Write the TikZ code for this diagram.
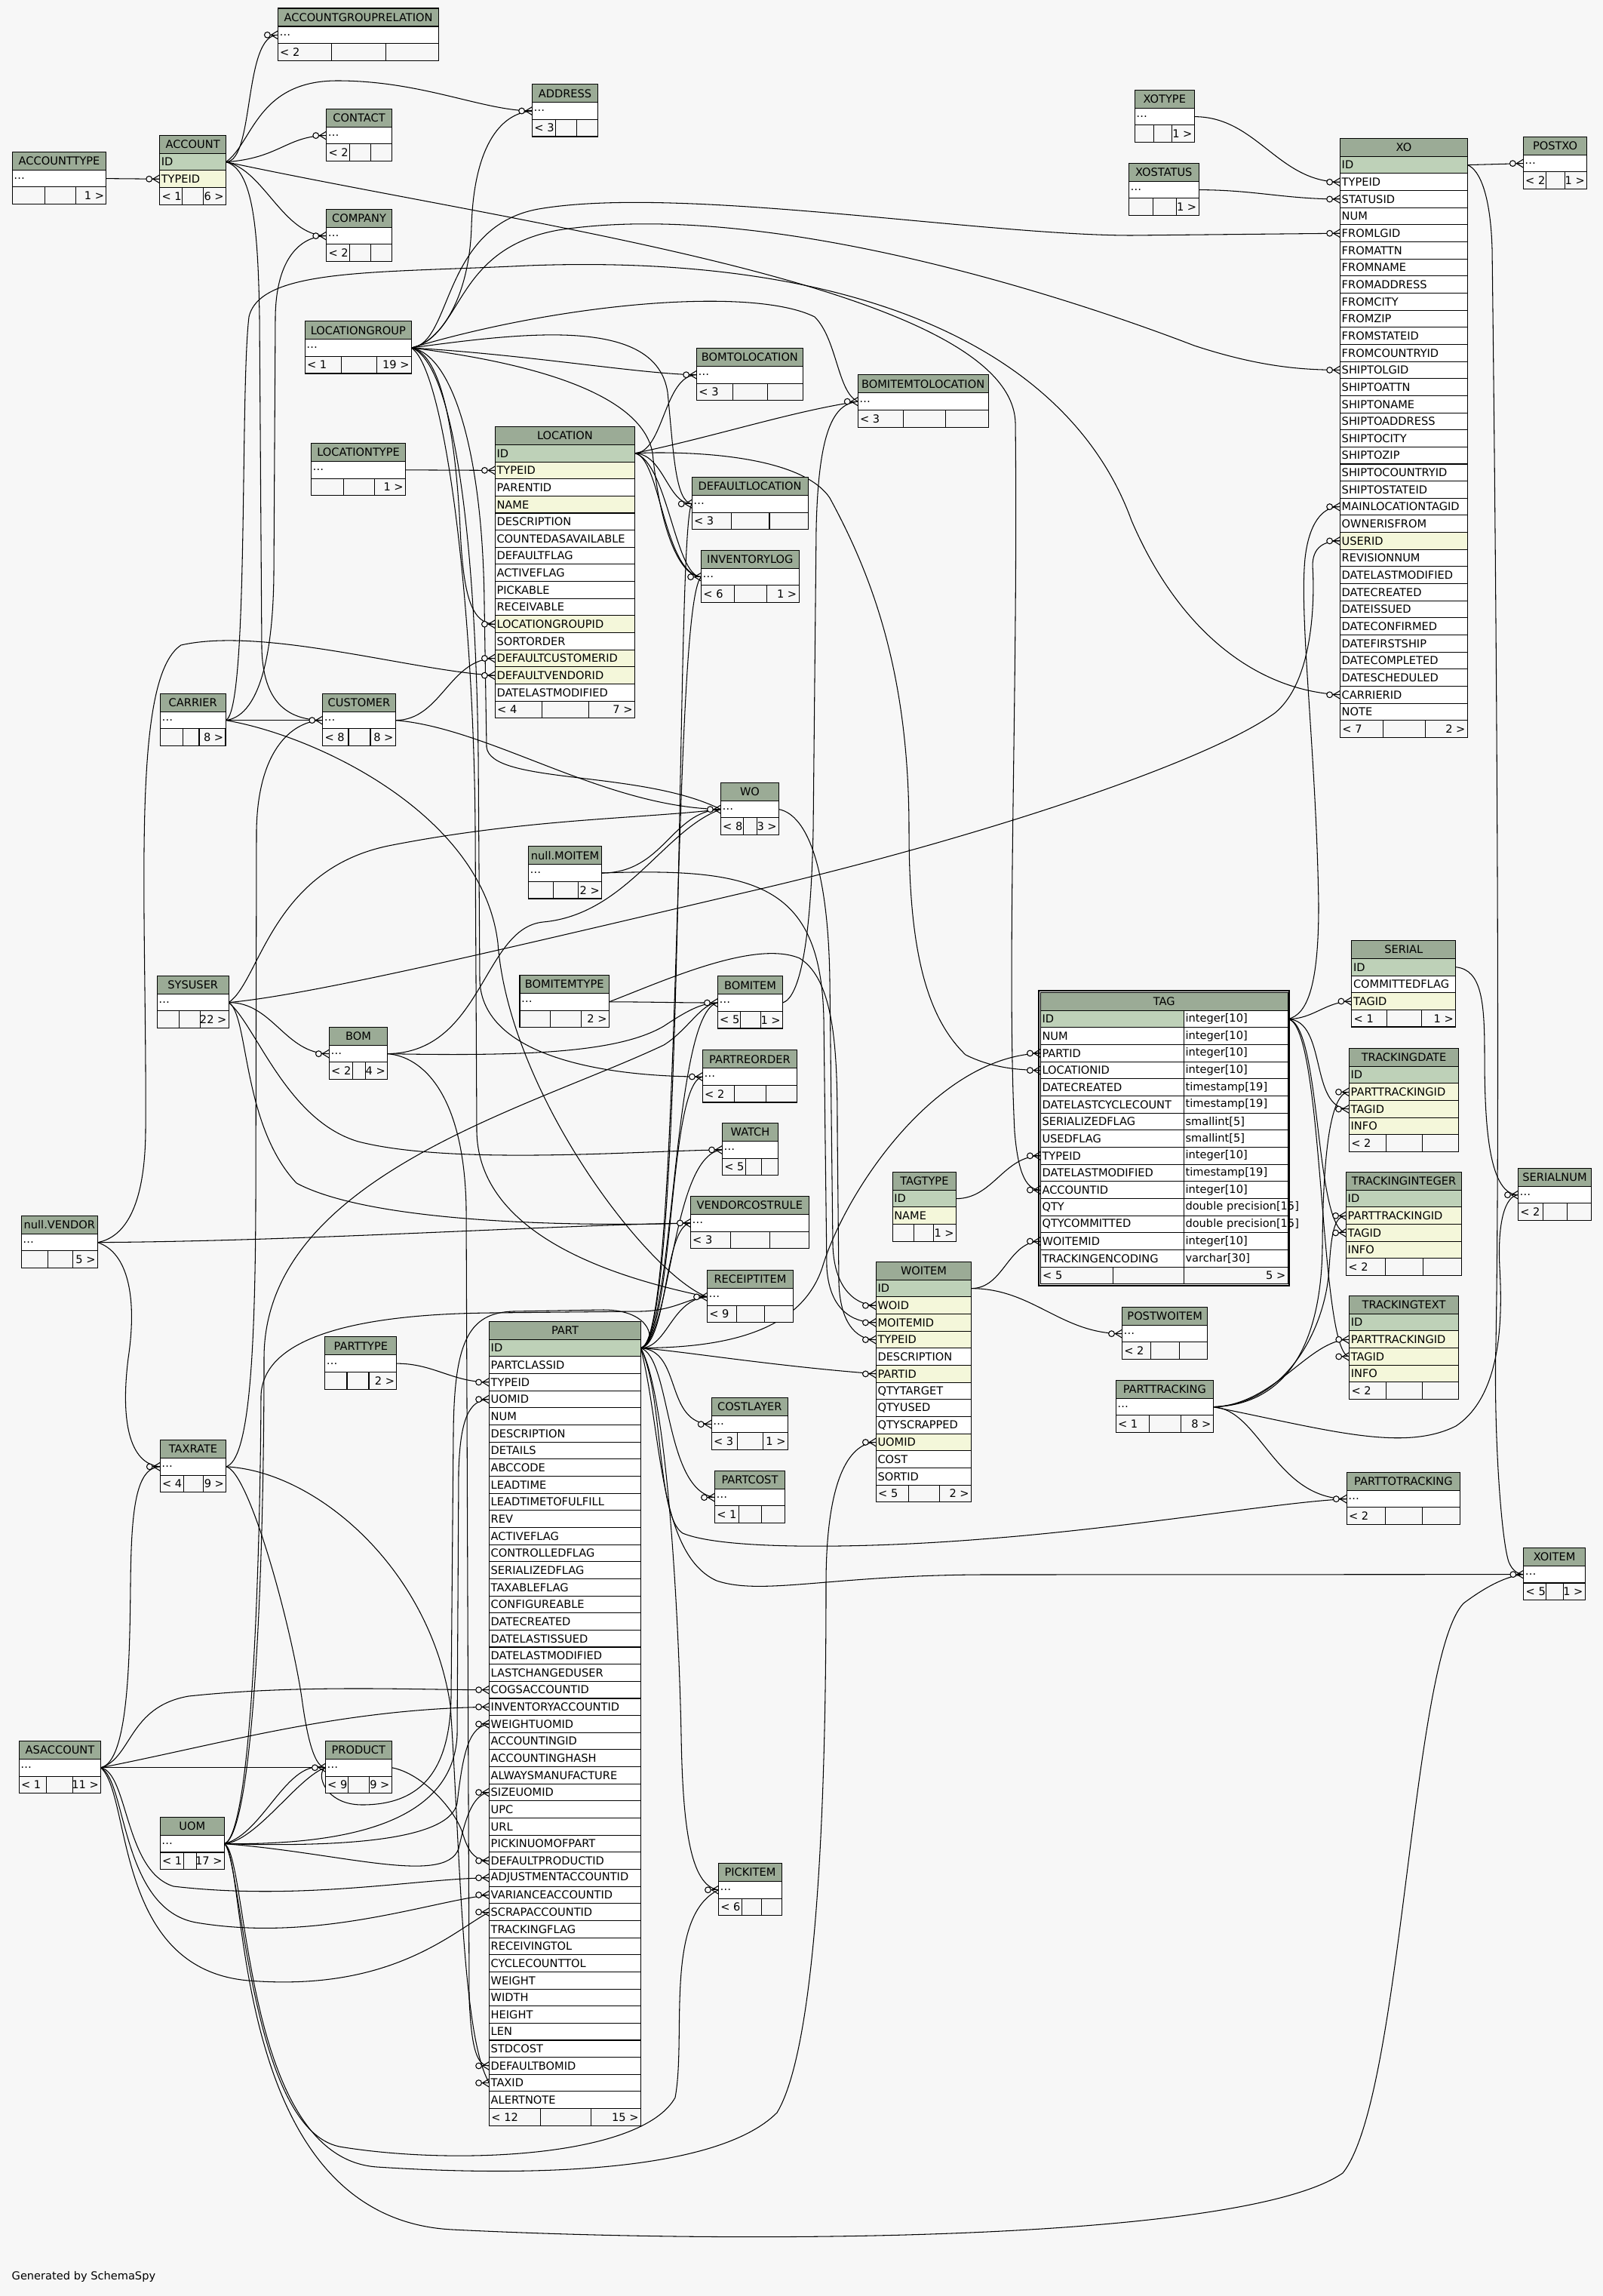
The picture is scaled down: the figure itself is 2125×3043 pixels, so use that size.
\documentclass[tikz,border=0pt]{standalone}
\usepackage{fontspec}
\setmainfont{DejaVu Sans}
\usepackage{tikz}
\definecolor{erhd}{HTML}{9BAB96}
\definecolor{erpk}{HTML}{BED1B8}
\definecolor{erix}{HTML}{F4F7DA}
\definecolor{erw}{HTML}{FFFFFF}
\definecolor{erbg}{HTML}{F7F7F7}
\pgfdeclarelayer{bg}
\pgfdeclarelayer{wires}
\pgfsetlayers{bg,wires,main}

\newcommand{\ertable}[6]{%
  \pgfmathsetmacro\ertw{(#4-#2)*0.284528-1.2}%
  \node[erhead, text width=\ertw pt] (#1) at (#2,#3) {#5};
  \foreach \t/\k [count=\i] in {#6} {
    \node[errow, fill=er\k, text width=\ertw pt] (#1-\i) at (#2,{#3+24+(\i-1)*22.65}) {\t};
    \pgfmathsetmacro\ery{#3+24+\i*22.65}\xdef\erY{\ery}
  }
  \xdef\erN{#1}\xdef\erL{#2}\xdef\erR{#4}%
}
\newcommand{\erfoot}[4]{%
  \pgfmathsetmacro\erfa{(#1-\erL)*0.284528}%
  \pgfmathsetmacro\erfb{(#2-#1)*0.284528}%
  \pgfmathsetmacro\erfc{(\erR-#2)*0.284528}%
  \node[erfoot, minimum width=\erfa pt] (\erN-fa) at (\erL,\erY) {};
  \node[erfoot, minimum width=\erfb pt] (\erN-fb) at (#1,\erY) {};
  \node[erfoot, minimum width=\erfc pt] (\erN-fc) at (#2,\erY) {};
  \node[anchor=west, inner xsep=0.6pt, inner ysep=0pt] (\erN-la) at (\erN-fa.west) {#3};
  \node[anchor=east, inner xsep=0.6pt, inner ysep=0pt] (\erN-ra) at (\erN-fc.east) {#4};
}
\newcommand{\crow}[1]{%
  \draw[fk] (#1) -- ++(-10,0);
  \draw[fk] (#1) ++(0,-5.5) -- ++(-9,5.5) -- ++(9,5.5);
  \draw[fk, fill=erbg] (#1) ++(-14,0) circle[radius=1.1pt];
}

\begin{document}
\begin{tikzpicture}[x=0.01cm, y=-0.01cm,
    font=\fontsize{4.15}{5}\selectfont,
    erhead/.style={draw, fill=erhd, line width=0.3pt, anchor=north west, minimum height=0.24cm,
      inner xsep=0.6pt, inner ysep=0pt, outer sep=0pt, align=center},
    errow/.style={draw, line width=0.3pt, anchor=north west, minimum height=0.2265cm,
      inner xsep=0.6pt, inner ysep=0pt, outer sep=0pt, align=left},
    erfoot/.style={draw, fill=erbg, line width=0.3pt, anchor=north west, minimum height=0.2265cm,
      inner xsep=0.6pt, inner ysep=0pt, outer sep=0pt},
    fk/.style={line width=0.3pt}
  ]
  \useasboundingbox (0,0) rectangle (2125,3043);
  \begin{pgfonlayer}{bg}
    \fill[erbg] (0,0) rectangle (2125,3043);
  \end{pgfonlayer}

  \ertable{acctgrp}{368.4}{11}{581.6}{ACCOUNTGROUPRELATION}{\ldots/w}
  \erfoot{439.8}{511.2}{< 2}{}
  \ertable{acctype}{16.3}{201.3}{140.8}{ACCOUNTTYPE}{\ldots/w}
  \erfoot{59.7}{100.5}{}{1 >}
  \ertable{account}{211.7}{179.3}{299.5}{ACCOUNT}{ID/pk, TYPEID/ix}
  \erfoot{241.3}{269.4}{< 1}{6 >}
  \ertable{contact}{432.7}{144.3}{519.4}{CONTACT}{\ldots/w}
  \erfoot{463.3}{491.3}{< 2}{}
  \ertable{company}{432.7}{277.3}{519.4}{COMPANY}{\ldots/w}
  \erfoot{463.3}{491.3}{< 2}{}
  \ertable{address}{705.6}{111.7}{792.3}{ADDRESS}{\ldots/w}
  \erfoot{736.2}{764.3}{< 3}{}
  \ertable{xotype}{1504.3}{119.3}{1583.2}{XOTYPE}{\ldots/w}
  \erfoot{1529.4}{1553.2}{}{1 >}
  \ertable{xostatus}{1496.5}{216.3}{1589}{XOSTATUS}{\ldots/w}
  \erfoot{1528.5}{1559.4}{}{1 >}
  \ertable{xo}{1776.6}{183.3}{1945.2}{XO}{ID/pk, TYPEID/w, STATUSID/w, NUM/w, FROMLGID/w, FROMATTN/w,
    FROMNAME/w, FROMADDRESS/w, FROMCITY/w, FROMZIP/w, FROMSTATEID/w, FROMCOUNTRYID/w, SHIPTOLGID/w,
    SHIPTOATTN/w, SHIPTONAME/w, SHIPTOADDRESS/w, SHIPTOCITY/w, SHIPTOZIP/w, SHIPTOCOUNTRYID/w,
    SHIPTOSTATEID/w, MAINLOCATIONTAGID/w, OWNERISFROM/w, USERID/ix, REVISIONNUM/w, DATELASTMODIFIED/w,
    DATECREATED/w, DATEISSUED/w, DATECONFIRMED/w, DATEFIRSTSHIP/w, DATECOMPLETED/w, DATESCHEDULED/w,
    CARRIERID/w, NOTE/w}
  \erfoot{1833.4}{1889.3}{< 7}{2 >}
  \ertable{postxo}{2019.3}{181.3}{2103.6}{POSTXO}{\ldots/w}
  \erfoot{2049.3}{2074}{< 2}{1 >}
  \ertable{locgroup}{404.3}{425.7}{545.3}{LOCATIONGROUP}{\ldots/w}
  \erfoot{452.1}{499.4}{< 1}{19 >}
  \ertable{loctype}{412.6}{587.5}{537.5}{LOCATIONTYPE}{\ldots/w}
  \erfoot{455.3}{496.6}{}{1 >}
  \ertable{location}{656.4}{565.4}{841.4}{LOCATION}{ID/pk, TYPEID/ix, PARENTID/w, NAME/ix, DESCRIPTION/w,
    COUNTEDASAVAILABLE/w, DEFAULTFLAG/w, ACTIVEFLAG/w, PICKABLE/w, RECEIVABLE/w, LOCATIONGROUPID/ix,
    SORTORDER/w, DEFAULTCUSTOMERID/ix, DEFAULTVENDORID/ix, DATELASTMODIFIED/w}
  \erfoot{718.8}{780.4}{< 4}{7 >}
  \ertable{bomtoloc}{923.6}{461.4}{1064.1}{BOMTOLOCATION}{\ldots/w}
  \erfoot{971.4}{1017.3}{< 3}{}
  \ertable{bomitemtoloc}{1137.2}{496.8}{1310}{BOMITEMTOLOCATION}{\ldots/w}
  \erfoot{1197.4}{1253.6}{< 3}{}
  \ertable{defloc}{917.2}{632.5}{1071}{DEFAULTLOCATION}{\ldots/w}
  \erfoot{969.1}{1020}{< 3}{}
  \ertable{invlog}{929.6}{729.3}{1059}{INVENTORYLOG}{\ldots/w}
  \erfoot{973.2}{1016.4}{< 6}{1 >}
  \ertable{carrier}{212.5}{919.3}{299}{CARRIER}{\ldots/w}
  \erfoot{242.6}{264}{}{8 >}
  \ertable{customer}{427.7}{919.3}{524.2}{CUSTOMER}{\ldots/w}
  \erfoot{462}{491}{< 8}{8 >}
  \ertable{wo}{955.4}{1037.3}{1032.5}{WO}{\ldots/w}
  \erfoot{985.7}{1003.6}{< 8}{3 >}
  \ertable{moitem}{700.6}{1121.7}{797.6}{null.MOITEM}{\ldots/w}
  \erfoot{733.6}{766.5}{}{2 >}
  \ertable{sysuser}{208.2}{1293.3}{303.2}{SYSUSER}{\ldots/w}
  \erfoot{237.5}{265.4}{}{22 >}
  \ertable{bomitemtype}{689}{1292.5}{807.3}{BOMITEMTYPE}{\ldots/w}
  \erfoot{729.7}{770.4}{}{2 >}
  \ertable{bomitem}{951.4}{1293.7}{1037.5}{BOMITEM}{\ldots/w}
  \erfoot{981.8}{1008.2}{< 5}{1 >}
  \ertable{bom}{436.4}{1361.3}{513.6}{BOM}{\ldots/w}
  \erfoot{467.1}{484.3}{< 2}{4 >}
  \ertable{partreorder}{931.4}{1391.7}{1056.4}{PARTREORDER}{\ldots/w}
  \erfoot{973.2}{1015.7}{< 2}{}
  \ertable{watch}{957.5}{1488.6}{1031.4}{WATCH}{\ldots/w}
  \erfoot{988.2}{1009.6}{< 5}{}
  \ertable{vendor}{28.2}{1611.3}{129.3}{null.VENDOR}{\ldots/w}
  \erfoot{63.2}{96.4}{}{5 >}
  \ertable{vcrule}{915.4}{1585.6}{1072.1}{VENDORCOSTRULE}{\ldots/w}
  \erfoot{968.2}{1020.4}{< 3}{}
  \ertable{receiptitem}{937.5}{1683.5}{1051.4}{RECEIPTITEM}{\ldots/w}
  \erfoot{976.4}{1013.2}{< 9}{}

  \node[erhead, text width=92pt] (tag) at (1379.4,1315.3) {TAG};
  \foreach \t/\k/\d [count=\i] in {ID/pk/integer[10], NUM/w/integer[10], PARTID/w/integer[10],
    LOCATIONID/w/integer[10], DATECREATED/w/timestamp[19], DATELASTCYCLECOUNT/w/timestamp[19],
    SERIALIZEDFLAG/w/smallint[5], USEDFLAG/w/smallint[5], TYPEID/w/integer[10],
    DATELASTMODIFIED/w/timestamp[19], ACCOUNTID/w/integer[10], QTY/w/double precision[15],
    QTYCOMMITTED/w/double precision[15], WOITEMID/w/integer[10], TRACKINGENCODING/w/varchar[30]} {
    \node[errow, fill=er\k, text width=52.86pt] (tag-\i) at (1379.4,{1339.3+(\i-1)*22.65}) {\t};
    \node[errow, fill=erw, text width=37.95pt] (tag-\i-t) at (1569.4,{1339.3+(\i-1)*22.65}) {\mbox{\d}};
  }
  \gdef\erN{tag}\gdef\erL{1379.4}\gdef\erR{1707}\gdef\erY{1679.05}
  \erfoot{1475.4}{1569.4}{< 5}{5 >}
  \draw[line width=0.5pt] (1377,1312.7) rectangle (1709,1704.3);

  \ertable{serial}{1791.9}{1246.4}{1929.6}{SERIAL}{ID/pk, COMMITTEDFLAG/w, TAGID/ix}
  \erfoot{1838.9}{1884.5}{< 1}{1 >}
  \ertable{trackdate}{1788.5}{1389.3}{1933.4}{TRACKINGDATE}{ID/pk, PARTTRACKINGID/ix, TAGID/ix, INFO/ix}
  \erfoot{1837.5}{1885.5}{< 2}{}
  \ertable{trackint}{1784.6}{1553.3}{1937.3}{TRACKINGINTEGER}{ID/pk, PARTTRACKINGID/ix, TAGID/ix, INFO/ix}
  \erfoot{1836.5}{1886.9}{< 2}{}
  \ertable{tracktext}{1788.7}{1717.3}{1933.3}{TRACKINGTEXT}{ID/pk, PARTTRACKINGID/ix, TAGID/ix, INFO/ix}
  \erfoot{1837}{1885.4}{< 2}{}
  \ertable{serialnum}{2012.5}{1548.3}{2109.4}{SERIALNUM}{\ldots/w}
  \erfoot{2045.4}{2077}{< 2}{}
  \ertable{tagtype}{1183.2}{1553.3}{1267.5}{TAGTYPE}{ID/pk, NAME/ix}
  \erfoot{1211.4}{1237.5}{}{1 >}
  \ertable{woitem}{1161.4}{1672.3}{1287.5}{WOITEM}{ID/pk, WOID/ix, MOITEMID/ix, TYPEID/ix, DESCRIPTION/w,
    PARTID/ix, QTYTARGET/w, QTYUSED/w, QTYSCRAPPED/w, UOMID/ix, COST/w, SORTID/w}
  \erfoot{1204.3}{1245.7}{< 5}{2 >}
  \ertable{postwoitem}{1487.5}{1732.3}{1600.7}{POSTWOITEM}{\ldots/w}
  \erfoot{1525.7}{1563.6}{< 2}{}
  \ertable{parttracking}{1479.3}{1829.3}{1608.2}{PARTTRACKING}{\ldots/w}
  \erfoot{1523.2}{1565.7}{< 1}{8 >}
  \ertable{parttotrack}{1785.3}{1951.3}{1935.4}{PARTTOTRACKING}{\ldots/w}
  \erfoot{1836.2}{1885.4}{< 2}{}
  \ertable{xoitem}{2019.8}{2051.3}{2101.2}{XOITEM}{\ldots/w}
  \erfoot{2049.5}{2072.4}{< 5}{1 >}
  \ertable{parttype}{430.8}{1771.8}{525.9}{PARTTYPE}{\ldots/w}
  \erfoot{460}{489}{}{2 >}
  \ertable{part}{648.6}{1751.3}{849.3}{PART}{ID/pk, PARTCLASSID/w, TYPEID/w, UOMID/w, NUM/w, DESCRIPTION/w,
    DETAILS/w, ABCCODE/w, LEADTIME/w, LEADTIMETOFULFILL/w, REV/w, ACTIVEFLAG/w, CONTROLLEDFLAG/w,
    SERIALIZEDFLAG/w, TAXABLEFLAG/w, CONFIGUREABLE/w, DATECREATED/w, DATELASTISSUED/w,
    DATELASTMODIFIED/w, LASTCHANGEDUSER/w, COGSACCOUNTID/w, INVENTORYACCOUNTID/w, WEIGHTUOMID/w,
    ACCOUNTINGID/w, ACCOUNTINGHASH/w, ALWAYSMANUFACTURE/w, SIZEUOMID/w, UPC/w, URL/w, PICKINUOMOFPART/w,
    DEFAULTPRODUCTID/w, ADJUSTMENTACCOUNTID/w, VARIANCEACCOUNTID/w, SCRAPACCOUNTID/w, TRACKINGFLAG/w,
    RECEIVINGTOL/w, CYCLECOUNTTOL/w, WEIGHT/w, WIDTH/w, HEIGHT/w, LEN/w, STDCOST/w, DEFAULTBOMID/w,
    TAXID/w, ALERTNOTE/w}
  \erfoot{716.4}{783.2}{< 12}{15 >}
  \ertable{costlayer}{943.2}{1852.3}{1044.3}{COSTLAYER}{\ldots/w}
  \erfoot{977.5}{1011.8}{< 3}{1 >}
  \ertable{partcost}{947.5}{1949.3}{1040.4}{PARTCOST}{\ldots/w}
  \erfoot{979.6}{1009.6}{< 1}{}
  \ertable{taxrate}{212.3}{1908.5}{299.7}{TAXRATE}{\ldots/w}
  \erfoot{243.6}{269.7}{< 4}{9 >}
  \ertable{asaccount}{25.3}{2307.4}{133.6}{ASACCOUNT}{\ldots/w}
  \erfoot{61.3}{96.5}{< 1}{11 >}
  \ertable{product}{431.4}{2307.4}{519.2}{PRODUCT}{\ldots/w}
  \erfoot{461.5}{489.5}{< 9}{9 >}
  \ertable{uom}{212.3}{2408.3}{297.4}{UOM}{\ldots/w}
  \erfoot{243.6}{260.6}{< 1}{17 >}
  \ertable{pickitem}{952.5}{2469.4}{1036.4}{PICKITEM}{\ldots/w}
  \erfoot{983.2}{1009.6}{< 6}{}

  \node[anchor=base west, inner sep=0pt] (credit) at (15,3021) {Generated by SchemaSpy};

  \begin{pgfonlayer}{wires}
  \draw[fk] (acctype-1.east) -- (account-2.west);
  \draw[fk] (account-1.east) .. controls (338,214) and (322,46) .. (acctgrp-1.west);
  \draw[fk] (account-1.east) .. controls (370,210) and (380,180) .. (contact-1.west);
  \draw[fk] (account-1.east) .. controls (335,190) and (340,107) .. (447,107) .. controls (560,107) and (640,147) .. (address-1.west);
  \draw[fk] (account-1.east) .. controls (350,225) and (375,312) .. (company-1.west);
  \draw[fk] (account-1.east) .. controls (335,225) and (342,300) .. (344,420) -- (347,860) .. controls (349,930) and (380,954) .. (customer-1.west);
  \draw[fk] (account-1.east) .. controls (700,300) and (1340,380) .. (1346,560) .. controls (1350,900) and (1334,1280) .. (1345,1500) .. controls (1350,1560) and (1362,1577) .. (tag-11.west);
  \draw[fk] (carrier-1.east) -- (customer-1.west);
  \draw[fk] (carrier-1.east) .. controls (340,950) and (362,880) .. (363,760) -- (365,420) .. controls (366,340) and (400,313) .. (company-1.west);
  \draw[fk] (carrier-1.east) .. controls (330,945) and (318,520) .. (330,420) .. controls (345,355) and (500,362) .. (700,352) .. controls (1150,335) and (1420,470) .. (1500,690) .. controls (1560,830) and (1660,915) .. (xo-32.west);
  \draw[fk] (carrier-1.east) .. controls (420,975) and (640,1080) .. (660,1250) .. controls (675,1450) and (860,1690) .. (receiptitem-1.west);

  \draw[fk] (xotype-1.east) to[out=0,in=180] (xo-2.west);
  \draw[fk] (xostatus-1.east) to[out=0,in=180] (xo-3.west);
  \draw[fk] (locgroup-1.east) .. controls (600,455) and (585,300) .. (714,277) .. controls (900,245) and (1300,312) .. (1500,312) -- (xo-5.west);
  \draw[fk] (locgroup-1.east) .. controls (615,445) and (600,330) .. (740,305) .. controls (1000,265) and (1380,380) .. (1583,458) .. controls (1680,490) and (1740,490) .. (xo-13.west);
  \draw[fk] (tag-1-t.east) .. controls (1735,1345) and (1748,1300) .. (1748,1200) .. controls (1745,1000) and (1722,820) .. (1730,740) .. controls (1735,695) and (1752,671) .. (xo-21.west);
  \draw[fk] (sysuser-1.east) .. controls (420,1318) and (700,1250) .. (1000,1180) .. controls (1300,1110) and (1600,1010) .. (1690,945) .. controls (1745,900) and (1742,780) .. (1740,750) .. controls (1740,725) and (1755,717) .. (xo-23.west);
  \draw[fk] (xo-1.east) -- (postxo-1.west);
  \draw[fk] (xo-1.east) .. controls (1962,225) and (1976,260) .. (1978,330) .. controls (1985,900) and (1988,1500) .. (1983,1780) .. controls (1980,1900) and (1990,2040) .. (2000,2070) .. controls (2005,2082) and (2012,2086) .. (xoitem-1.west);

  \draw[fk] (tag-1-t.east) to[out=0,in=180] (serial-3.west);
  \draw[fk] (tag-1-t.east) .. controls (1760,1352) and (1735,1470) .. (trackdate-3.west);
  \draw[fk] (tag-1-t.east) .. controls (1752,1355) and (1742,1630) .. (trackint-3.west);
  \draw[fk] (tag-1-t.east) .. controls (1756,1355) and (1748,1795) .. (tracktext-3.west);
  \draw[fk] (tagtype-1.east) to[out=0,in=180] (tag-9.west);
  \draw[fk] (woitem-1.east) to[out=0,in=180] (tag-14.west);
  \draw[fk] (woitem-1.east) to[out=0,in=180] (postwoitem-1.west);
  \draw[fk] (serial-1.east) .. controls (1965,1285) and (1968,1330) .. (1968,1400) .. controls (1968,1500) and (1975,1583) .. (serialnum-1.west);
  \draw[fk] (parttracking-1.east) .. controls (1700,1862) and (1752,1790) .. (1753,1650) .. controls (1754,1520) and (1765,1447) .. (trackdate-2.west);
  \draw[fk] (parttracking-1.east) .. controls (1705,1862) and (1758,1760) .. (1762,1680) .. controls (1765,1630) and (1770,1611) .. (trackint-2.west);
  \draw[fk] (parttracking-1.east) .. controls (1690,1862) and (1735,1775) .. (tracktext-2.west);
  \draw[fk] (parttracking-1.east) .. controls (1670,1868) and (1690,1986) .. (parttotrack-1.west);
  \draw[fk] (parttracking-1.east) .. controls (1760,1895) and (1860,1925) .. (1930,1890) .. controls (1990,1850) and (1992,1750) .. (1988,1680) .. controls (1985,1620) and (1995,1585) .. (serialnum-1.west);

  \draw[fk] (loctype-1.east) -- (location-2.west);
  \draw[fk] (locgroup-1.east) .. controls (590,470) and (605,600) .. (610,700) .. controls (614,790) and (625,827) .. (location-11.west);
  \draw[fk] (customer-1.east) to[out=0,in=180] (location-13.west);
  \draw[fk] (vendor-1.east) .. controls (165,1640) and (192,1600) .. (193,1500) .. controls (195,1200) and (172,900) .. (240,855) .. controls (350,830) and (550,890) .. (location-14.west);
  \draw[fk] (location-1.east) .. controls (880,600) and (880,497) .. (bomtoloc-1.west);
  \draw[fk] (location-1.east) .. controls (950,578) and (1050,545) .. (bomitemtoloc-1.west);
  \draw[fk] (location-1.east) .. controls (880,602) and (885,668) .. (defloc-1.west);
  \draw[fk] (location-1.east) .. controls (875,605) and (880,760) .. (invlog-1.west);
  \draw[fk] (location-1.east) .. controls (885,612) and (895,765) .. (invlog-1.west);
  \draw[fk] (location-1.east) .. controls (900,598) and (1060,600) .. (1100,660) .. controls (1160,770) and (1205,900) .. (1205,1100) .. controls (1205,1250) and (1225,1345) .. (1280,1398) .. controls (1320,1418) and (1360,1418) .. (tag-4.west);
  \draw[fk] (locgroup-1.east) .. controls (700,470) and (850,496) .. (bomtoloc-1.west);
  \draw[fk] (locgroup-1.east) .. controls (750,400) and (1000,380) .. (1080,420) .. controls (1110,450) and (1110,520) .. (bomitemtoloc-1.west);
  \draw[fk] (locgroup-1.east) .. controls (700,440) and (870,420) .. (885,520) .. controls (893,600) and (895,665) .. (defloc-1.west);
  \draw[fk] (locgroup-1.east) .. controls (700,480) and (850,520) .. (865,600) .. controls (875,700) and (900,764) .. (invlog-1.west);
  \draw[fk] (locgroup-1.east) .. controls (580,455) and (622,400) .. (625,300) .. controls (628,200) and (660,150) .. (address-1.west);
  \draw[fk] (locgroup-1.east) .. controls (600,470) and (640,600) .. (642,800) -- (645,990) .. controls (650,1040) and (850,1020) .. (wo-1.west);
  \draw[fk] (locgroup-1.east) .. controls (600,480) and (630,700) .. (634,1000) -- (636,1300) .. controls (640,1400) and (800,1427) .. (partreorder-1.west);
  \draw[fk] (locgroup-1.east) .. controls (590,490) and (628,800) .. (630,1100) -- (632,1500) .. controls (635,1650) and (850,1700) .. (receiptitem-1.west);

  \draw[fk] (customer-1.east) .. controls (650,965) and (800,1070) .. (wo-1.west);
  \draw[fk] (sysuser-1.east) .. controls (345,1300) and (360,1150) .. (520,1120) .. controls (700,1085) and (850,1085) .. (wo-1.west);
  \draw[fk] (sysuser-1.east) to[out=0,in=180] (bom-1.west);
  \draw[fk] (sysuser-1.east) .. controls (340,1360) and (380,1485) .. (475,1513) .. controls (600,1545) and (850,1525) .. (watch-1.west);
  \draw[fk] (sysuser-1.east) .. controls (330,1345) and (320,1490) .. (393,1568) .. controls (500,1625) and (800,1625) .. (vcrule-1.west);

  \draw[fk] (wo-1.east) .. controls (1070,1080) and (1098,1150) .. (1100,1300) -- (1104,1650) .. controls (1106,1715) and (1140,1730) .. (woitem-2.west);
  \draw[fk] (moitem-1.east) .. controls (1000,1150) and (1088,1170) .. (1092,1350) -- (1096,1680) .. controls (1100,1745) and (1140,1753) .. (woitem-3.west);
  \draw[fk] (moitem-1.east) .. controls (880,1157) and (890,1075) .. (wo-1.west);
  \draw[fk] (bomitemtype-1.east) .. controls (880,1300) and (1000,1245) .. (1060,1270) .. controls (1108,1300) and (1110,1400) .. (1110,1500) -- (1112,1700) .. controls (1114,1760) and (1140,1776) .. (woitem-4.west);
  \draw[fk] (bomitemtype-1.east) to[out=0,in=180] (bomitem-1.west);
  \draw[fk] (bomitem-1.east) .. controls (1060,1322) and (1075,1250) .. (1078,1100) -- (1082,700) .. controls (1085,570) and (1105,535) .. (bomitemtoloc-1.west);
  \draw[fk] (bom-1.east) .. controls (700,1400) and (820,1395) .. (880,1360) .. controls (910,1340) and (930,1329) .. (bomitem-1.west);
  \draw[fk] (bom-1.east) .. controls (640,1395) and (640,1230) .. (720,1222) .. controls (830,1212) and (880,1100) .. (wo-1.west);
  \draw[fk] (bom-1.east) .. controls (560,1400) and (615,1450) .. (618,1600) -- (622,2650) .. controls (625,2715) and (632,2738) .. (part-43.west);

  \draw[fk] (part-1.east) .. controls (885,1786) and (890,1722) .. (receiptitem-1.west);
  \draw[fk] (part-1.east) .. controls (885,1780) and (880,1625) .. (vcrule-1.west);
  \draw[fk] (part-1.east) .. controls (890,1775) and (890,1528) .. (watch-1.west);
  \draw[fk] (part-1.east) .. controls (895,1770) and (885,1435) .. (partreorder-1.west);
  \draw[fk] (part-1.east) .. controls (895,1770) and (890,1340) .. (bomitem-1.west);
  \draw[fk] (part-1.east) .. controls (905,1780) and (890,800) .. (invlog-1.west);
  \draw[fk] (part-1.east) .. controls (910,1780) and (895,690) .. (defloc-1.west);
  \draw[fk] (part-1.east) .. controls (900,1790) and (1020,1810) .. (woitem-6.west);
  \draw[fk] (part-1.east) .. controls (950,1786) and (1060,1770) .. (1090,1680) .. controls (1120,1580) and (1240,1400) .. (tag-3.west);
  \draw[fk] (part-1.east) .. controls (905,1790) and (880,1887) .. (costlayer-1.west);
  \draw[fk] (part-1.east) .. controls (890,1800) and (880,1975) .. (partcost-1.west);
  \draw[fk] (part-1.east) .. controls (880,1850) and (870,2010) .. (905,2032) .. controls (960,2055) and (1150,2052) .. (1300,2040) .. controls (1500,2025) and (1700,1990) .. (parttotrack-1.west);
  \draw[fk] (part-1.east) .. controls (878,1900) and (872,2060) .. (950,2095) .. controls (1010,2115) and (1100,2088) .. (1300,2087) -- (xoitem-1.west);
  \draw[fk] (part-1.east) .. controls (885,1850) and (900,2150) .. (903,2300) .. controls (905,2420) and (915,2500) .. (pickitem-1.west);
  \draw[fk] (part-1.east) .. controls (872,1780) and (865,1736) .. (800,1736) -- (680,1738) .. controls (620,1740) and (602,1780) .. (601,1900) -- (598,2250) .. controls (596,2345) and (560,2392) .. (480,2392) .. controls (430,2392) and (418,2350) .. (product-1.west);
  \draw[fk] (parttype-1.east) to[out=0,in=180] (part-3.west);

  \draw[fk] (uom-1.east) .. controls (450,2445) and (600,2420) .. (606,2300) -- (608,1950) .. controls (610,1880) and (622,1855) .. (part-4.west);
  \draw[fk] (uom-1.east) .. controls (450,2448) and (595,2440) .. (606,2390) .. controls (614,2320) and (622,2288) .. (part-23.west);
  \draw[fk] (uom-1.east) .. controls (450,2455) and (590,2500) .. (608,2450) .. controls (616,2415) and (625,2378) .. (part-27.west);
  \draw[fk] (uom-1.east) .. controls (340,2440) and (395,2355) .. (product-1.west);
  \draw[fk] (uom-1.east) .. controls (350,2430) and (380,2330) .. (product-1.west);
  \draw[fk] (uom-1.east) .. controls (335,2430) and (345,2050) .. (346,1850) .. controls (348,1780) and (450,1742) .. (650,1740) -- (850,1738) .. controls (895,1737) and (915,1719) .. (receiptitem-1.west);
  \draw[fk] (uom-1.east) .. controls (335,2430) and (350,2100) .. (350,1800) .. controls (350,1560) and (700,1470) .. (880,1385) .. controls (912,1365) and (930,1329) .. (bomitem-1.west);
  \draw[fk] (uom-1.east) .. controls (330,2460) and (320,2860) .. (500,2872) .. controls (700,2885) and (950,2880) .. (1030,2800) .. controls (1090,2700) and (1095,2300) .. (1095,2100) .. controls (1095,1950) and (1130,1912) .. (woitem-10.west);
  \draw[fk] (uom-1.east) .. controls (320,2460) and (330,2820) .. (450,2845) .. controls (600,2870) and (850,2860) .. (895,2780) .. controls (910,2700) and (880,2540) .. (pickitem-1.west);
  \draw[fk] (uom-1.east) .. controls (330,2470) and (300,2940) .. (600,2955) .. controls (1000,2975) and (1650,2970) .. (1780,2880) .. controls (1860,2780) and (1870,2200) .. (1940,2125) .. controls (1980,2095) and (2005,2088) .. (xoitem-1.west);

  \draw[fk] (asaccount-1.east) -- (product-1.west);
  \draw[fk] (asaccount-1.east) .. controls (300,2310) and (450,2265) .. (part-22.west);
  \draw[fk] (asaccount-1.east) .. controls (175,2330) and (170,2262) .. (250,2248) .. controls (400,2232) and (560,2240) .. (part-21.west);
  \draw[fk] (asaccount-1.east) .. controls (170,2335) and (172,2200) .. (173,2100) .. controls (174,2000) and (180,1945) .. (taxrate-1.west);
  \draw[fk] (asaccount-1.east) .. controls (170,2350) and (165,2480) .. (230,2500) .. controls (400,2520) and (560,2489) .. (part-32.west);
  \draw[fk] (asaccount-1.east) .. controls (168,2360) and (160,2530) .. (260,2548) .. controls (420,2575) and (570,2520) .. (part-33.west);
  \draw[fk] (asaccount-1.east) .. controls (175,2380) and (150,2610) .. (330,2625) .. controls (520,2640) and (600,2560) .. (part-34.west);

  \draw[fk] (vendor-1.east) .. controls (170,1660) and (182,1720) .. (170,1800) .. controls (160,1880) and (170,1940) .. (taxrate-1.west);
  \draw[fk] (vendor-1.east) .. controls (400,1645) and (700,1625) .. (vcrule-1.west);
  \draw[fk] (taxrate-1.east) .. controls (330,1950) and (385,2150) .. (400,2250) .. controls (408,2310) and (418,2342) .. (product-1.west);
  \draw[fk] (taxrate-1.east) .. controls (420,1950) and (570,2080) .. (597,2260) .. controls (610,2450) and (612,2700) .. (part-44.west);
  \draw[fk] (taxrate-1.east) .. controls (330,1935) and (338,1800) .. (339,1600) -- (340,1100) .. controls (342,990) and (390,955) .. (customer-1.west);
  \draw[fk] (product-1.east) .. controls (560,2350) and (605,2400) .. (614,2432) .. controls (622,2458) and (632,2466) .. (part-31.west);

  \foreach \p in {account-2, acctgrp-1, contact-1, address-1, company-1, customer-1, tag-11,
      xo-2, xo-3, xo-5, xo-13, xo-21, xo-23, xo-32, postxo-1, xoitem-1, serial-3,
      trackdate-2, trackdate-3, trackint-2, trackint-3, tracktext-2, tracktext-3, serialnum-1,
      parttotrack-1, tag-3, tag-4, tag-9, tag-14, postwoitem-1, location-2, location-11,
      location-13, location-14, bomtoloc-1, bomitemtoloc-1, defloc-1, invlog-1, wo-1,
      woitem-2, woitem-3, woitem-4, woitem-6, woitem-10, bomitem-1, partreorder-1, watch-1,
      vcrule-1, receiptitem-1, bom-1, taxrate-1, product-1, part-3, part-4, part-21, part-22,
      part-23, part-27, part-31, part-32, part-33, part-34, part-43, part-44, costlayer-1,
      partcost-1, pickitem-1} {\crow{\p.west}}
  \end{pgfonlayer}
\end{tikzpicture}
\end{document}
